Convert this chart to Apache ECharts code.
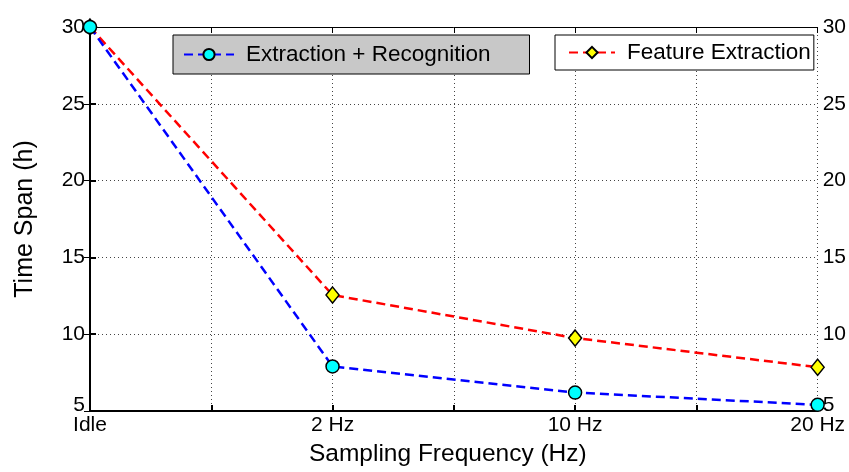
<!DOCTYPE html>
<html>
<head>
<meta charset="utf-8">
<script src="https://cdn.jsdelivr.net/npm/echarts@6/dist/echarts.min.js"></script>
<style>
  html, body { margin: 0; padding: 0; background: #fff; }
  #chart { width: 849px; height: 472px; }
</style>
</head>
<body>
<div id="chart"></div>
<script>
// x positions 0..3 map onto these labels
const categories = ['Idle', '2 Hz', '10 Hz', '20 Hz'];
const recognition = [30, 7.9, 6.2, 5.4];
const extraction = [30, 12.55, 9.75, 7.85];
const yTicks = [5, 10, 15, 20, 25, 30];

const font = 'Liberation Sans, Arial, sans-serif';

function points(vals) {
    return vals.map((v, i) => [i, v]);
}

function yLabel(v) {
    // lowest label sits a bit higher, like the original
    return v === yTicks[0] ? '{low|' + v + '}' : String(v);
}

const yLabelStyle = {
    color: '#000', fontSize: 21, fontFamily: font, margin: 5,
    formatter: yLabel,
    rich: { low: { fontSize: 21, fontFamily: font, color: '#000', padding: [0, 0, 12, 0] } }
};

const legendText = { fontSize: 22.5, fontFamily: font, color: '#000', padding: [0, 0, 0, 7] };

let instance = echarts.init(document.getElementById('chart'));
instance.setOption({
    animation: false,
    grid: { left: 90, right: 29, top: 27, bottom: 58 },
    legend: [{
        data: ['Extraction + Recognition'],
        left: 173, top: 35,
        backgroundColor: '#c8c8c8',
        borderColor: '#000', borderWidth: 1, borderRadius: 0,
        padding: [8, 39, 8, 10],
        itemWidth: 50, itemHeight: 14,
        textStyle: legendText
    }, {
        data: ['Feature Extraction'],
        left: 555, top: 35,
        backgroundColor: '#fff',
        borderColor: '#000', borderWidth: 1, borderRadius: 0,
        padding: [6, 3, 6, 13],
        itemWidth: 46, itemHeight: 14,
        textStyle: legendText
    }],
    xAxis: [{
        type: 'value', min: 0, max: 3, interval: 0.5,
        name: 'Sampling Frequency (Hz)', nameLocation: 'middle', nameGap: 31,
        nameTextStyle: { fontSize: 24.5, fontFamily: font, color: '#000', padding: [0, 12, 0, 0] },
        axisLine: { lineStyle: { color: '#000', width: 2 } },
        axisTick: { inside: true, length: 6, lineStyle: { color: '#000', width: 2 } },
        axisLabel: {
            color: '#000', fontSize: 21, fontFamily: font, margin: 4,
            formatter: v => Number.isInteger(v) ? categories[v] : ''
        },
        splitLine: { show: true, lineStyle: { color: '#444', type: [1, 3], width: 1 } }
    }, {
        type: 'value', position: 'top', min: 0, max: 3, interval: 0.5,
        axisLine: { lineStyle: { color: '#000', width: 1 } },
        axisTick: { inside: true, length: 6, lineStyle: { color: '#000' } },
        axisLabel: { show: false },
        splitLine: { show: false }
    }],
    yAxis: [{
        type: 'value', min: 5, max: 30, interval: 5,
        name: 'Time Span (h)', nameLocation: 'middle', nameGap: 52,
        nameTextStyle: { fontSize: 25, fontFamily: font, color: '#000' },
        axisLine: { show: true, lineStyle: { color: '#000', width: 2 } },
        axisTick: { show: true, inside: true, length: 6, lineStyle: { color: '#000', width: 2 } },
        axisLabel: yLabelStyle,
        splitLine: { show: true, lineStyle: { color: '#444', type: [1, 3], width: 1 } }
    }, {
        type: 'value', position: 'right', min: 5, max: 30, interval: 5,
        axisLine: { show: true, lineStyle: { color: '#000', width: 1 } },
        axisTick: { show: true, inside: true, length: 6, lineStyle: { color: '#000' } },
        axisLabel: yLabelStyle,
        splitLine: { show: false }
    }],
    series: [{
        name: 'Extraction + Recognition',
        type: 'line',
        data: points(recognition),
        clip: false,
        symbol: 'circle', symbolSize: 13,
        itemStyle: { color: '#00ffff', borderColor: '#000', borderWidth: 1.5 },
        lineStyle: { color: '#0000ff', width: 2.5, type: [9, 5] },
        z: 3
    }, {
        name: 'Feature Extraction',
        type: 'line',
        data: points(extraction),
        clip: false,
        symbol: 'diamond', symbolSize: [13, 16],
        itemStyle: { color: '#ffff00', borderColor: '#000', borderWidth: 1.5 },
        lineStyle: { color: '#ff0000', width: 2.5, type: [9, 5] },
        z: 2
    }]
});
window.onresize = () => {
    instance.resize();
};
</script>
</body>
</html>
